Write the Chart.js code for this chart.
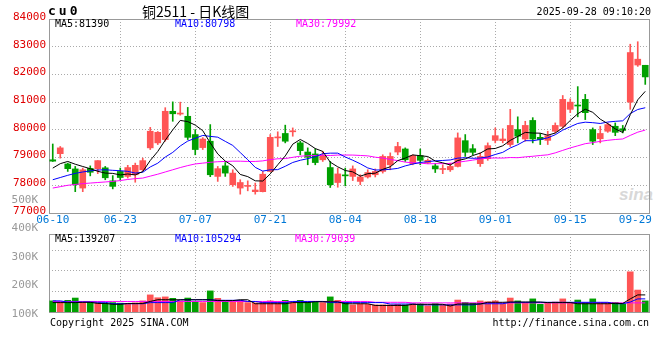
<!DOCTYPE html>
<html>
<head>
<meta charset="utf-8">
<script src="https://cdn.jsdelivr.net/npm/chart.js@4.4.1/dist/chart.umd.min.js"></script>
<style>
  body { margin: 0; background: #fff; }
  #box { position: relative; width: 660px; height: 360px; overflow: hidden; }
  #box canvas { position: absolute; left: 0; }
  .t { position: absolute; white-space: nowrap; font: 10px/11px 'DejaVu Sans Mono', monospace; color: #000; }
</style>
</head>
<body>
<div id="box">
  <div class="t" style="left:619px;top:186px;font:italic bold 17px/18px 'Liberation Sans',sans-serif;color:#d8d8d8">sina</div>
  <canvas id="kline" width="660" height="232" style="top:0"></canvas>
  <canvas id="vol" width="660" height="140" style="top:190px"></canvas>

  <div class="t" style="left:48px;top:4px;font:bold 13px/14px 'DejaVu Sans Mono',monospace;letter-spacing:3px">cu0</div>
  <div class="t" style="left:142px;top:3px;font:14px/16px 'Noto Sans CJK SC',sans-serif">铜2511 - 日K线图</div>
  <div class="t" style="right:9px;top:6px;font:10px/12px 'DejaVu Sans Mono',monospace">2025-09-28 09:10:20</div>

  <div class="t" style="left:55px;top:18px">MA5:81390</div>
  <div class="t" style="left:175px;top:18px;color:#0000ff">MA10:80798</div>
  <div class="t" style="left:296px;top:18px;color:#ff00ff">MA30:79992</div>

  <div class="t" style="left:55px;top:233px">MA5:139207</div>
  <div class="t" style="left:175px;top:233px;color:#0000ff">MA10:105294</div>
  <div class="t" style="left:295px;top:233px;color:#ff00ff">MA30:79039</div>

  <div class="t" style="left:50px;top:317px;font:10px/12px 'DejaVu Sans Mono',monospace">Copyright 2025 SINA.COM</div>
  <div class="t" style="right:11px;top:317px;font:10px/12px 'DejaVu Sans Mono',monospace">http://finance.sina.com.cn</div>
</div>

<script>
const dates = [
  '06-10', '06-11', '06-12', '06-13', '06-16', '06-17', '06-18', '06-19', '06-20',
  '06-23', '06-24', '06-25', '06-26', '06-27', '06-30',
  '07-01', '07-02', '07-03', '07-04', '07-07', '07-08', '07-09', '07-10', '07-11',
  '07-14', '07-15', '07-16', '07-17', '07-18', '07-21', '07-22', '07-23', '07-24', '07-25',
  '07-28', '07-29', '07-30', '07-31', '08-01',
  '08-04', '08-05', '08-06', '08-07', '08-08', '08-11', '08-12', '08-13', '08-14', '08-15',
  '08-18', '08-19', '08-20', '08-21', '08-22', '08-25', '08-26', '08-27', '08-28', '08-29',
  '09-01', '09-02', '09-03', '09-04', '09-05', '09-08', '09-09', '09-10', '09-11', '09-12',
  '09-15', '09-16', '09-17', '09-18', '09-19', '09-22', '09-23', '09-24', '09-25', '09-26', '09-29'
]
const tickDates = ['06-10', '06-23', '07-07', '07-21', '08-04', '08-18', '09-01', '09-15', '09-29']
const volTicks = [100000, 200000, 300000, 400000, 500000]

const open = [
  78920, 79140, 78770, 78590, 77900, 78610, 78600, 78630, 78160, 78500,
  78320, 78380, 78560, 79350, 79530, 79650, 80670, 80570, 80490, 79830,
  79360, 79590, 78320, 78700, 78020, 77900, 77960, 77770, 77770, 78500,
  79710, 79870, 79930, 79530, 79200, 79130, 78920, 78640, 78100, 78370,
  78320, 78140, 78300, 78380, 78500, 78740, 79200, 79310, 78780, 79070,
  78820, 78700, 78570, 78560, 78680, 79610, 79320, 78780, 78960, 79620,
  79610, 79470, 80010, 79670, 80340, 79730, 79620, 79950, 80130, 80740,
  80890, 81100, 80010, 79680, 79950, 80130, 80040, 81000, 82340, 82330
]
const close = [
  78870, 79350, 78600, 78020, 78560, 78470, 78890, 78270, 77960, 78280,
  78640, 78720, 78890, 79950, 79910, 80670, 80580, 80590, 79730, 79290,
  79670, 78380, 78600, 78440, 78440, 78100, 77990, 77830, 78400, 79730,
  79740, 79590, 79960, 79250, 79010, 78820, 79080, 78020, 78410, 78340,
  78590, 78300, 78460, 78500, 79040, 79040, 79400, 78920, 79070, 78900,
  78900, 78590, 78600, 78680, 79710, 79190, 79190, 79040, 79430, 79790,
  79670, 80160, 79770, 80160, 79670, 79650, 79790, 80160, 81100, 81000,
  80860, 80620, 79590, 79870, 80190, 79910, 79980, 82790, 82550, 81910
]
const high = [
  79490, 79400, 78800, 78680, 78620, 78700, 78890, 78680, 78350, 78620,
  78720, 78800, 78980, 80090, 79940, 80800, 81010, 81000, 80810, 80010,
  79720, 80190, 78680, 78820, 78560, 78200, 78160, 78080, 78500, 79830,
  79930, 80170, 80070, 79590, 79350, 79320, 79220, 78860, 78620, 78620,
  78700, 78380, 78560, 78590, 79100, 79170, 79550, 79350, 79100, 79310,
  78950, 78780, 78740, 78800, 79890, 79830, 79470, 79170, 79530, 80070,
  80040, 80740, 80470, 80310, 80440, 79870, 79950, 80250, 81240, 81120,
  81560, 81280, 80070, 80130, 80250, 80250, 80160, 83090, 83180, 82330
]
const low = [
  78860, 78980, 78500, 77770, 77770, 78340, 78420, 78200, 77870, 78200,
  78260, 78110, 78520, 79290, 79470, 79590, 80310, 80530, 79650, 79100,
  79290, 78310, 78140, 78320, 77960, 77680, 77800, 77680, 77760, 78490,
  79400, 79530, 79770, 79100, 78740, 78740, 78860, 77920, 77930, 77980,
  78170, 78020, 78260, 78300, 78440, 78560, 79100, 78860, 78740, 78740,
  78780, 78460, 78420, 78500, 78660, 79040, 79100, 78680, 78900, 79530,
  79530, 79400, 79530, 79590, 79530, 79470, 79470, 79890, 80070, 80620,
  80470, 80370, 79470, 79530, 79910, 79790, 79890, 80740, 82290, 81640
]
const ma5 = [
  78620, 78780, 78860, 78760, 78678, 78598, 78505, 78440, 78429, 78373,
  78408, 78374, 78497, 78895, 79221, 79628, 80000, 80341, 80298, 80172,
  79971, 79530, 79131, 78873, 78704, 78391, 78313, 78161, 78153, 78412,
  78740, 79059, 79484, 79653, 79508, 79325, 79223, 78834, 78666, 78533,
  78485, 78329, 78418, 78436, 78576, 78668, 78890, 78982, 79096, 79067,
  79038, 78874, 78810, 78732, 78894, 78952, 79073, 79161, 79311, 79328,
  79425, 79619, 79764, 79909, 79885, 79880, 79807, 79885, 80074, 80339,
  80581, 80746, 80632, 80386, 80224, 80035, 79906, 80547, 81084, 81390
]
const ma10 = [
  78200, 78280, 78360, 78430, 78480, 78520, 78550, 78560, 78540, 78526,
  78503, 78440, 78469, 78662, 78797, 79018, 79187, 79419, 79596, 79697,
  79799, 79765, 79736, 79585, 79438, 79181, 78922, 78646, 78513, 78558,
  78565, 78686, 78823, 78903, 78960, 79033, 79141, 79159, 79160, 79021,
  78905, 78776, 78626, 78551, 78555, 78577, 78610, 78700, 78766, 78822,
  78853, 78882, 78896, 78914, 78981, 78995, 78973, 78985, 79022, 79111,
  79189, 79346, 79462, 79610, 79607, 79653, 79713, 79824, 79991, 80112,
  80231, 80277, 80259, 80230, 80282, 80308, 80326, 80590, 80735, 80798
]
const ma30 = [
  77900, 77950, 78000, 78030, 78060, 78080, 78100, 78120, 78140, 78170,
  78210, 78240, 78260, 78330, 78400, 78480, 78560, 78640, 78710, 78770,
  78800, 78830, 78850, 78860, 78870, 78870, 78860, 78860, 78880, 78927,
  78956, 78964, 79009, 79050, 79065, 79077, 79083, 79075, 79090, 79092,
  79090, 79076, 79062, 79013, 78984, 78930, 78891, 78835, 78813, 78800,
  78775, 78781, 78782, 78790, 78832, 78868, 78908, 78948, 78982, 78985,
  78982, 79001, 78995, 79025, 79047, 79075, 79099, 79170, 79260, 79348,
  79424, 79501, 79539, 79585, 79623, 79652, 79671, 79800, 79916, 79992
]
const volume = [
  139000, 136000, 141000, 149000, 134000, 134000, 133000, 131000, 133000, 131000,
  129000, 132000, 139000, 160000, 150000, 153000, 148000, 139000, 149000, 136000,
  133000, 174000, 148000, 139000, 136000, 141000, 133000, 132000, 134000, 139000,
  136000, 141000, 133000, 141000, 134000, 134000, 133000, 153000, 141000, 134000,
  125000, 128000, 127000, 125000, 125000, 125000, 127000, 125000, 129000, 128000,
  122000, 129000, 125000, 128000, 142000, 134000, 131000, 139000, 136000, 139000,
  129000, 149000, 139000, 134000, 146000, 127000, 134000, 135000, 146000, 134000,
  142000, 134000, 146000, 134000, 134000, 134000, 128000, 241000, 177000, 139000
]
const volMa5 = [
  133000, 133000, 133000, 133000, 134000, 134000, 130000, 130000, 127000, 127000,
  130000, 130000, 130000, 137000, 143000, 143000, 143000, 143000, 143000, 143000,
  143000, 143000, 140000, 140000, 140000, 143000, 143000, 129000, 129000, 129000,
  129000, 129000, 133000, 133000, 133000, 136000, 136000, 136000, 136000, 129000,
  129000, 129000, 129000, 123000, 123000, 123000, 123000, 123000, 127000, 127000,
  127000, 127000, 127000, 121000, 128000, 128000, 128000, 128000, 134000, 134000,
  134000, 135000, 135000, 135000, 135000, 135000, 133000, 133000, 133000, 133000,
  129000, 129000, 129000, 129000, 129000, 130000, 130000, 146000, 160000, 160000
]
const volMa10 = [
  139000, 139000, 135000, 135000, 135000, 135000, 134000, 134000, 129000, 129000,
  129000, 129000, 129000, 133000, 133000, 133000, 133000, 143000, 143000, 143000,
  143000, 143000, 141000, 141000, 141000, 141000, 137000, 137000, 133000, 133000,
  133000, 133000, 137000, 137000, 137000, 137000, 137000, 133000, 133000, 133000,
  133000, 133000, 133000, 133000, 133000, 128000, 128000, 128000, 128000, 125000,
  125000, 125000, 125000, 125000, 125000, 125000, 125000, 129000, 129000, 129000,
  129000, 134000, 134000, 134000, 134000, 134000, 134000, 134000, 134000, 134000,
  134000, 134000, 134000, 134000, 134000, 129000, 129000, 135000, 146000, 146000
]
const volMa30 = [
  137000, 137000, 137000, 137000, 137000, 137000, 137000, 137000, 137000, 137000,
  137000, 137000, 137000, 137000, 137000, 137000, 137000, 137000, 137000, 137000,
  137000, 137000, 137000, 137000, 137000, 137000, 137000, 137000, 137000, 137000,
  137000, 137000, 137000, 137000, 137000, 137000, 137000, 137000, 137000, 137000,
  137000, 137000, 137000, 134000, 134000, 134000, 134000, 134000, 132000, 132000,
  132000, 132000, 132000, 132000, 132000, 132000, 132000, 132000, 132000, 132000,
  132000, 132000, 132000, 132000, 132000, 132000, 132000, 132000, 132000, 132000,
  132000, 132000, 132000, 132000, 132000, 132000, 132000, 132000, 132000, 132000
]

const RED = '#ff5555'
const GREEN = '#00a000'
const GRID = '#aaaaaa'
const candleColors = close.map((c, i) => c >= open[i] ? RED : GREEN)
const lastIdx = dates.length - 1
const showGrid = i => tickDates.includes(dates[i]) && i > 0 && i < lastIdx

Chart.defaults.font.family = "'DejaVu Sans Mono', monospace"
Chart.defaults.font.size = 11
Chart.defaults.animation = false
Chart.defaults.plugins.legend.display = false
Chart.defaults.plugins.tooltip.enabled = false

// grey box round each plot area
const frame = {
  id: 'frame',
  beforeDatasetsDraw(chart) {
    const { ctx, chartArea: a } = chart
    ctx.save()
    ctx.strokeStyle = '#999'
    ctx.lineWidth = 1
    ctx.strokeRect(a.left + 0.5, a.top + 0.5, a.width, a.height)
    ctx.restore()
  }
}

const maLine = (data, color) => ({
  type: 'line', data, borderColor: color, borderWidth: 1,
  pointRadius: 0, tension: 0, order: 0
})

const xAxis = (labels, height) => ({
  offset: true,
  grid: { offset: false, drawTicks: false, color: c => showGrid(c.index) ? GRID : 'transparent' },
  border: { display: false, dash: [1, 2] },
  ticks: labels ? {
    autoSkip: false, maxRotation: 0, padding: 1, color: '#0078d7',
    // last label is pushed left so it stays inside the box
    callback: (v, i) => tickDates.includes(dates[i]) ? (i === lastIdx ? dates[i] + '   ' : dates[i]) : ''
  } : { display: false },
  // keep the plot box fixed, labels may hang over its ends
  afterFit: s => { s.height = height; s.paddingLeft = 0; s.paddingRight = 0 }
})

new Chart(document.getElementById('kline'), {
  type: 'bar',
  data: {
    labels: dates,
    datasets: [
      maLine(ma5, '#000000'),
      maLine(ma10, '#0000ff'),
      maLine(ma30, '#ff00ff'),
      { data: open.map((o, i) => [o, close[i]]), backgroundColor: candleColors,
        barThickness: 6, minBarLength: 1, grouped: false, order: 1 },
      { data: low.map((l, i) => [l, high[i]]), backgroundColor: candleColors,
        barThickness: 1, grouped: false, order: 2 }
    ]
  },
  options: {
    responsive: false,
    devicePixelRatio: 1,
    layout: { padding: { top: 19, right: 11, left: 0, bottom: 0 } },
    scales: {
      x: xAxis(true, 19),
      y: {
        min: 77000, max: 84000,
        ticks: { stepSize: 1000, color: '#e00000', padding: 3, labelOffset: -2, callback: v => String(v) },
        grid: { color: GRID, drawTicks: false },
        border: { display: false, dash: [1, 2] },
        afterFit: s => { s.width = 49 }
      }
    }
  },
  plugins: [frame]
})

new Chart(document.getElementById('vol'), {
  type: 'bar',
  data: {
    labels: dates,
    datasets: [
      maLine(volMa5, '#000000'),
      maLine(volMa10, '#0000ff'),
      maLine(volMa30, '#ff00ff'),
      { data: volume, backgroundColor: candleColors, barThickness: 6, order: 1 }
    ]
  },
  options: {
    responsive: false,
    devicePixelRatio: 1,
    layout: { padding: { top: 44, right: 11, left: 0, bottom: 0 } },
    scales: {
      x: xAxis(false, 18),
      y: {
        min: 100000, max: 373684, bounds: 'data',
        afterBuildTicks: s => { s.ticks = volTicks.map(value => ({ value })) },
        ticks: { autoSkip: false, color: '#999999', padding: 3, labelOffset: 2, callback: v => v / 1000 + 'K' },
        grid: { display: false },
        border: { display: false },
        afterFit: s => { s.width = 49 }
      },
      // only carries the dotted lines of the volume box
      g: {
        position: 'left', min: -0.8, max: 2.99, bounds: 'data',
        ticks: { display: false, stepSize: 1, includeBounds: false },
        grid: { color: GRID, drawTicks: false },
        border: { display: false, dash: [1, 2] },
        afterFit: s => { s.width = 0 }
      }
    }
  },
  plugins: [frame]
})
</script>
</body>
</html>
